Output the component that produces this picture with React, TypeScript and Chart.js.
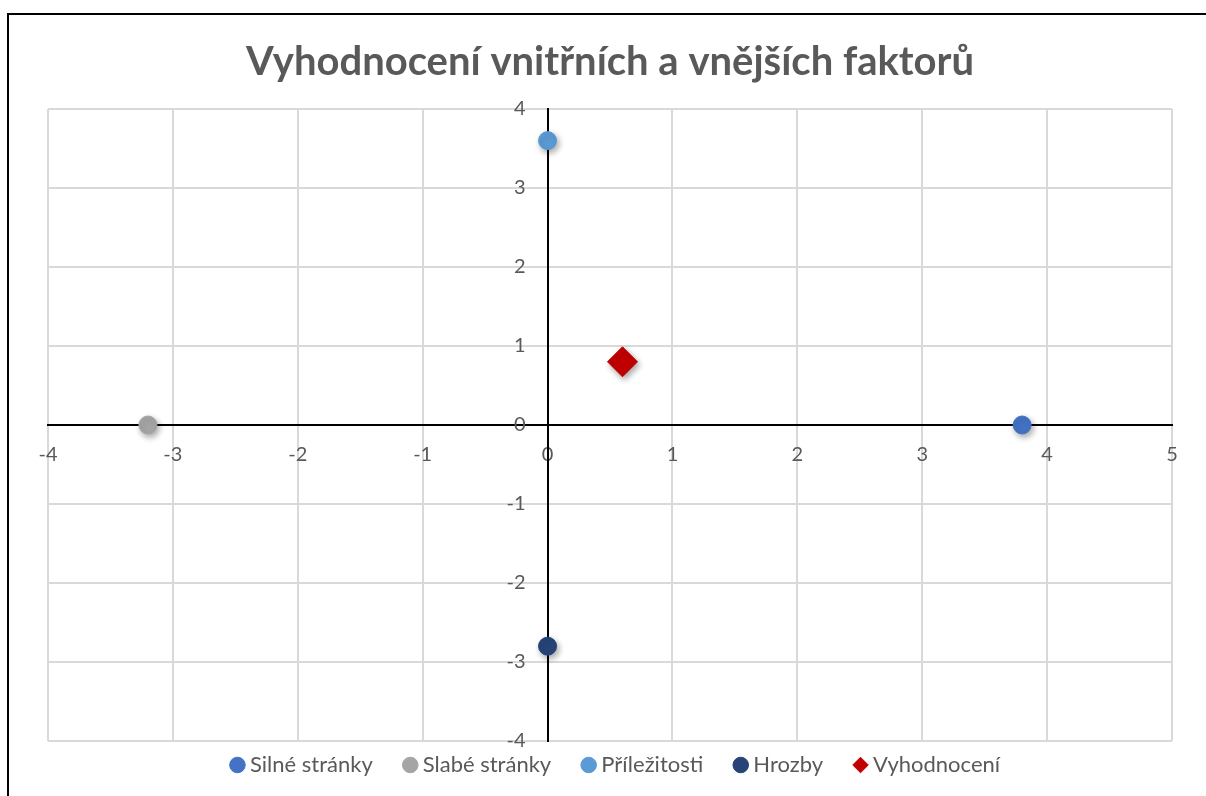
import React, { useEffect, useRef } from "react";
import { Chart, registerables } from "chart.js";

Chart.register(...registerables);

const titleText = "Vyhodnocení vnitřních a vnějších faktorů";
const seriesNames = ["Silné stránky", "Slabé stránky", "Příležitosti", "Hrozby", "Vyhodnocení"];
const xValues = [3.8, -3.2, 0, 0, 0.6];
const yValues = [0, 0, 3.6, -2.8, 0.8];
const seriesColors = ["#4472C4", "#A5A5A5", "#5B9BD5", "#264478", "#C00000"];
const seriesStyles = ["circle", "circle", "circle", "circle", "rectRot"];
const seriesRadius = [9, 9, 9, 9, 15];
const xRange = [-4, 5];
const yRange = [-4, 4];

const FONT = "Lato, 'Open Sans', sans-serif";
const TEXT = "#595959";
const LEGEND_SHIFT_Y = 23;
const LEGEND_SHIFT_X = 8;
const Y_LABEL_GAP = 22;

const shadowPlugin = {
  id: "pointShadow",
  beforeDatasetsDraw(chart: any) {
    const c = chart.ctx;
    c.save();
    c.shadowColor = "rgba(0,0,0,0.35)";
    c.shadowBlur = 6;
    c.shadowOffsetX = 2;
    c.shadowOffsetY = 3;
  },
  afterDatasetsDraw(chart: any) {
    chart.ctx.restore();
  },
};

const layoutTweaksPlugin = {
  id: "layoutTweaks",
  afterLayout(chart: any) {
    const l = chart.legend;
    if (l) {
      // move the legend content up and right; keep the clip box tall enough for descenders
      l.top -= LEGEND_SHIFT_Y;
      l.left += LEGEND_SHIFT_X;
      l.right += LEGEND_SHIFT_X;
    }
    const ys = chart.scales.y;
    if (ys && !ys.__patched) {
      const orig = ys.drawLabels;
      ys.drawLabels = function (area: any) {
        const c = this.ctx;
        c.save();
        c.translate(-Y_LABEL_GAP, 0);
        orig.call(this, area);
        c.restore();
      };
      ys.__patched = true;
    }
  },
};

export default function App() {
  const ref = useRef<HTMLCanvasElement | null>(null);

  useEffect(() => {
    if (!ref.current) return;
    const datasets = seriesNames.map((name, i) => ({
      label: name,
      data: [{ x: xValues[i], y: yValues[i] }],
      backgroundColor: seriesColors[i],
      borderColor: seriesColors[i],
      borderWidth: 1,
      pointStyle: seriesStyles[i],
      pointRadius: seriesRadius[i],
      pointHoverRadius: seriesRadius[i],
    }));
    const gridColor = (ctx: any) => (ctx.tick && ctx.tick.value === 0 ? "rgba(0,0,0,0)" : "#D9D9D9");
    const chart = new Chart(ref.current, {
      type: "scatter",
      data: { datasets } as any,
      options: {
        animation: false,
        responsive: false,
        layout: { padding: { left: 48, right: 34, top: 0, bottom: 0 } },
        plugins: {
          title: {
            display: true,
            text: titleText,
            fullSize: false,
            color: TEXT,
            font: { family: FONT, size: 40, weight: "bold" },
            padding: { top: 38, bottom: 23 },
          },
          legend: {
            display: true,
            position: "bottom",
            maxHeight: 55,
            labels: {
              usePointStyle: true,
              boxWidth: 3,
              boxHeight: 11,
              padding: 36,
              color: TEXT,
              font: { family: FONT, size: 22 },
            },
          },
          tooltip: { enabled: false },
        },
        scales: {
          x: {
            type: "linear",
            min: xRange[0],
            max: xRange[1],
            position: { y: 0 } as any,
            ticks: { stepSize: 1, color: TEXT, font: { family: FONT, size: 20 }, padding: 18 },
            grid: { color: gridColor, lineWidth: 2, drawTicks: false },
            border: { color: "#000000", width: 2 },
          },
          y: {
            type: "linear",
            min: yRange[0],
            max: yRange[1],
            position: { x: 0 } as any,
            ticks: { stepSize: 1, color: TEXT, font: { family: FONT, size: 20 } },
            grid: { color: gridColor, lineWidth: 2, drawTicks: false },
            border: { color: "#000000", width: 2 },
          },
        },
      } as any,
      plugins: [shadowPlugin, layoutTweaksPlugin],
    });
    return () => chart.destroy();
  }, []);

  return (
    <div
      style={{
        position: "fixed",
        left: 0,
        top: 0,
        width: 1206,
        height: 796,
        overflow: "hidden",
        background: "#ffffff",
      }}
    >
      <div
        style={{
          position: "absolute",
          left: 7,
          top: 13,
          width: 1400,
          height: 1000,
          borderLeft: "2px solid #000",
          borderTop: "2px solid #000",
        }}
      />
      <canvas
        ref={ref}
        width={1206}
        height={796}
        style={{ position: "absolute", left: 0, top: 0, width: 1206, height: 796 }}
      />
    </div>
  );
}
